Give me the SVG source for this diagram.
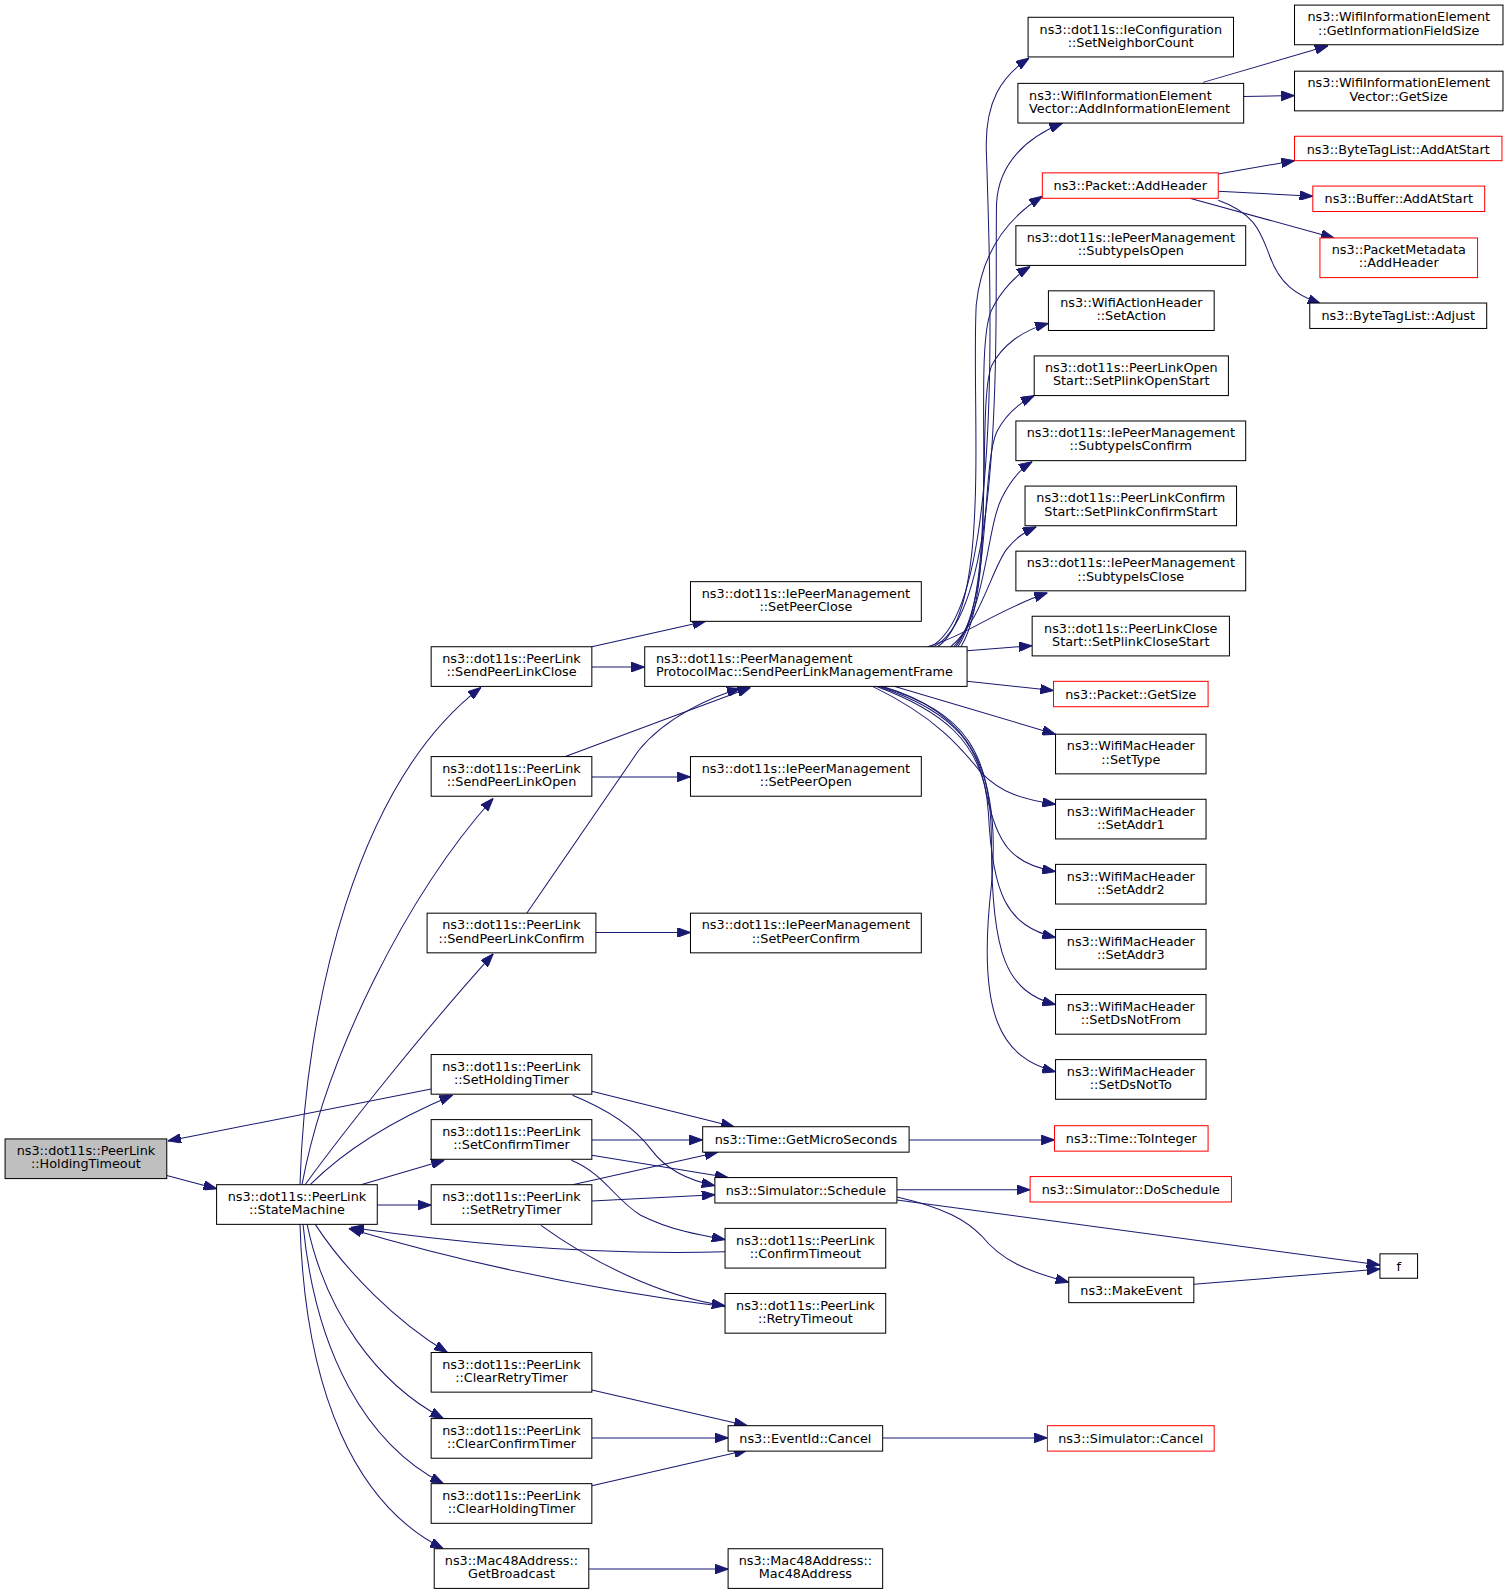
<svg xmlns="http://www.w3.org/2000/svg" width="1509" height="1595" viewBox="0 0 1509 1595">
<style>
.node rect{fill:#fff;stroke:#000;stroke-width:1}
.red rect{stroke:#f00}
.sel rect{fill:#bfbfbf}
text{font-family:"DejaVu Sans","Liberation Sans",sans-serif;font-size:12.6px;fill:#000;text-anchor:middle}
.lft text{text-anchor:start}
.edges path{fill:none;stroke:#191970;stroke-width:1;marker-end:url(#a)}
</style>
<defs>
<marker id="a" markerWidth="13" markerHeight="9.4" refX="13" refY="4.7" orient="auto" markerUnits="userSpaceOnUse"><path d="M0,0 L13,4.7 L0,9.4z" fill="#191970" stroke="#191970" stroke-width="1"/></marker>
</defs>
<rect width="1509" height="1595" fill="#fff"/>
<g transform="scale(1.0169)">
<g class="edges">
<path d="M164,1156 L213,1169"/>
<path d="M424,1071 L165,1122"/>
<path d="M295,1165 C300,990 350,770 473,676"/>
<path d="M297,1165 C320,1040 400,880 485,785"/>
<path d="M300,1165 C340,1110 420,1010 485,938"/>
<path d="M305,1165 C340,1130 390,1100 445,1077"/>
<path d="M355,1165 L437,1141"/>
<path d="M371,1185 L424,1185"/>
<path d="M310,1204 C340,1250 390,1300 440,1330"/>
<path d="M302,1204 C320,1290 370,1360 436,1395"/>
<path d="M298,1204 C310,1330 360,1420 436,1459"/>
<path d="M295,1204 C300,1370 350,1480 436,1523"/>
<path d="M713,1231 C600,1234 470,1225 345,1207"/>
<path d="M713,1285 C580,1268 450,1240 343,1208"/>
<path d="M582,636 L694,611"/>
<path d="M582,656 L634,656"/>
<path d="M556,744 L738,676"/>
<path d="M518,898 L628,738 C655,705 700,685 728,677"/>
<path d="M582,764 L679,764"/>
<path d="M586,917 L679,917"/>
<path d="M582,1073 L722,1108"/>
<path d="M563,1077 C600,1092 625,1110 640,1130 C655,1150 675,1160 703,1166"/>
<path d="M582,1121 L691,1121"/>
<path d="M582,1136 L716,1158"/>
<path d="M562,1141 C595,1155 605,1180 630,1195 C660,1210 690,1215 713,1219"/>
<path d="M563,1165 L706,1133"/>
<path d="M582,1181 L703,1175"/>
<path d="M532,1205 C580,1240 650,1275 713,1284"/>
<path d="M894,1121 L1037,1121"/>
<path d="M882,1170 L1013,1170"/>
<path d="M882,1180 L1357,1244"/>
<path d="M882,1177 C930,1188 950,1200 965,1215 C985,1240 1010,1250 1051,1261"/>
<path d="M1174,1263 L1357,1248"/>
<path d="M582,1367 L735,1402"/>
<path d="M582,1414 L716,1414"/>
<path d="M582,1461 L735,1426"/>
<path d="M868,1414 L1030,1414"/>
<path d="M579,1543 L716,1543"/>
<path d="M1198,171 L1273,158"/>
<path d="M1198,188 L1291,193"/>
<path d="M1170,195 L1312,234"/>
<path d="M1198,197 C1235,210 1240,230 1248,250 C1258,280 1275,290 1299,299"/>
<path d="M1183,81 L1306,45"/>
<path d="M1223,95 L1273,94"/>
<path d="M951,640 L1015,635"/>
<path d="M951,670 L1036,679"/>
<path d="M880,675 L1038,722"/>
<path d="M858,675 C920,705 945,735 965,760 C985,780 1005,786 1038,791"/>
<path d="M862,675 C930,700 960,730 970,780 C980,830 995,850 1038,857"/>
<path d="M864,675 C940,700 968,735 972,800 C976,880 990,910 1038,922"/>
<path d="M866,675 C950,700 975,740 975,830 C975,940 990,975 1038,988"/>
<path d="M868,675 C955,700 985,760 975,870 C960,1000 985,1040 1038,1054"/>
<path d="M912,636 C950,625 980,600 1030,583"/>
<path d="M935,636 C965,610 975,560 990,540 C1000,528 1008,523 1019,518"/>
<path d="M938,636 C970,600 970,520 985,490 C995,470 1005,460 1015,454"/>
<path d="M940,636 C975,590 965,460 980,425 C990,405 1005,395 1017,389"/>
<path d="M942,636 C980,580 960,400 975,360 C985,340 1005,325 1031,318"/>
<path d="M945,636 C985,570 955,350 975,305 C985,285 1000,270 1013,262"/>
<path d="M922,636 C975,600 955,400 960,300 C965,250 990,215 1025,193"/>
<path d="M918,636 C990,600 978,300 980,200 C982,160 1010,135 1045,121"/>
<path d="M915,636 C985,600 975,300 970,150 C968,100 985,75 1012,57"/>
</g>
<g id="n1" class="node sel"><rect x="5" y="1120" width="159" height="39"/><text x="84.5" y="1136">ns3::dot11s::PeerLink</text><text x="84.5" y="1149">::HoldingTimeout</text></g>
<g id="n2" class="node"><rect x="213" y="1165" width="158" height="39"/><text x="292" y="1181">ns3::dot11s::PeerLink</text><text x="292" y="1194">::StateMachine</text></g>
<g id="n3" class="node"><rect x="424" y="636" width="158" height="39"/><text x="503" y="652">ns3::dot11s::PeerLink</text><text x="503" y="665">::SendPeerLinkClose</text></g>
<g id="n4" class="node"><rect x="424" y="744" width="158" height="39"/><text x="503" y="760">ns3::dot11s::PeerLink</text><text x="503" y="773">::SendPeerLinkOpen</text></g>
<g id="n5" class="node"><rect x="420" y="898" width="166" height="39"/><text x="503" y="914">ns3::dot11s::PeerLink</text><text x="503" y="927">::SendPeerLinkConfirm</text></g>
<g id="n6" class="node"><rect x="424" y="1037" width="158" height="39"/><text x="503" y="1053">ns3::dot11s::PeerLink</text><text x="503" y="1066">::SetHoldingTimer</text></g>
<g id="n7" class="node"><rect x="424" y="1101" width="158" height="39"/><text x="503" y="1117">ns3::dot11s::PeerLink</text><text x="503" y="1130">::SetConfirmTimer</text></g>
<g id="n8" class="node"><rect x="424" y="1165" width="158" height="39"/><text x="503" y="1181">ns3::dot11s::PeerLink</text><text x="503" y="1194">::SetRetryTimer</text></g>
<g id="n9" class="node"><rect x="424" y="1330" width="158" height="39"/><text x="503" y="1346">ns3::dot11s::PeerLink</text><text x="503" y="1359">::ClearRetryTimer</text></g>
<g id="n10" class="node"><rect x="424" y="1395" width="158" height="39"/><text x="503" y="1411">ns3::dot11s::PeerLink</text><text x="503" y="1424">::ClearConfirmTimer</text></g>
<g id="n11" class="node"><rect x="424" y="1459" width="158" height="39"/><text x="503" y="1475">ns3::dot11s::PeerLink</text><text x="503" y="1488">::ClearHoldingTimer</text></g>
<g id="n12" class="node"><rect x="427" y="1523" width="152" height="39"/><text x="503" y="1539">ns3::Mac48Address::</text><text x="503" y="1552">GetBroadcast</text></g>
<g id="n13" class="node"><rect x="679" y="572" width="227" height="39"/><text x="792.5" y="588">ns3::dot11s::IePeerManagement</text><text x="792.5" y="601">::SetPeerClose</text></g>
<g id="n14" class="node lft"><rect x="634" y="636" width="317" height="39"/><text x="645" y="652">ns3::dot11s::PeerManagement</text><text x="645" y="665">ProtocolMac::SendPeerLinkManagementFrame</text></g>
<g id="n15" class="node"><rect x="679" y="744" width="227" height="39"/><text x="792.5" y="760">ns3::dot11s::IePeerManagement</text><text x="792.5" y="773">::SetPeerOpen</text></g>
<g id="n16" class="node"><rect x="679" y="898" width="227" height="39"/><text x="792.5" y="914">ns3::dot11s::IePeerManagement</text><text x="792.5" y="927">::SetPeerConfirm</text></g>
<g id="n17" class="node"><rect x="691" y="1108" width="203" height="25"/><text x="792.5" y="1125">ns3::Time::GetMicroSeconds</text></g>
<g id="n18" class="node"><rect x="703" y="1158" width="179" height="25"/><text x="792.5" y="1175">ns3::Simulator::Schedule</text></g>
<g id="n19" class="node"><rect x="713" y="1208" width="158" height="39"/><text x="792" y="1224">ns3::dot11s::PeerLink</text><text x="792" y="1237">::ConfirmTimeout</text></g>
<g id="n20" class="node"><rect x="713" y="1272" width="158" height="39"/><text x="792" y="1288">ns3::dot11s::PeerLink</text><text x="792" y="1301">::RetryTimeout</text></g>
<g id="n21" class="node"><rect x="716" y="1402" width="152" height="25"/><text x="792" y="1419">ns3::EventId::Cancel</text></g>
<g id="n22" class="node"><rect x="716" y="1523" width="152" height="39"/><text x="792" y="1539">ns3::Mac48Address::</text><text x="792" y="1552">Mac48Address</text></g>
<g id="n23" class="node"><rect x="1011" y="17" width="202" height="39"/><text x="1112" y="33">ns3::dot11s::IeConfiguration</text><text x="1112" y="46">::SetNeighborCount</text></g>
<g id="n24" class="node lft"><rect x="1001" y="82" width="222" height="39"/><text x="1012" y="98">ns3::WifiInformationElement</text><text x="1012" y="111">Vector::AddInformationElement</text></g>
<g id="n25" class="node red"><rect x="1025" y="170" width="173" height="25"/><text x="1111.5" y="187">ns3::Packet::AddHeader</text></g>
<g id="n26" class="node"><rect x="999" y="222" width="226" height="39"/><text x="1112" y="238">ns3::dot11s::IePeerManagement</text><text x="1112" y="251">::SubtypeIsOpen</text></g>
<g id="n27" class="node"><rect x="1031" y="286" width="163" height="39"/><text x="1112.5" y="302">ns3::WifiActionHeader</text><text x="1112.5" y="315">::SetAction</text></g>
<g id="n28" class="node"><rect x="1017" y="350" width="191" height="39"/><text x="1112.5" y="366">ns3::dot11s::PeerLinkOpen</text><text x="1112.5" y="379">Start::SetPlinkOpenStart</text></g>
<g id="n29" class="node"><rect x="999" y="414" width="226" height="39"/><text x="1112" y="430">ns3::dot11s::IePeerManagement</text><text x="1112" y="443">::SubtypeIsConfirm</text></g>
<g id="n30" class="node"><rect x="1008" y="478" width="208" height="39"/><text x="1112" y="494">ns3::dot11s::PeerLinkConfirm</text><text x="1112" y="507">Start::SetPlinkConfirmStart</text></g>
<g id="n31" class="node"><rect x="999" y="542" width="226" height="39"/><text x="1112" y="558">ns3::dot11s::IePeerManagement</text><text x="1112" y="571">::SubtypeIsClose</text></g>
<g id="n32" class="node"><rect x="1015" y="606" width="194" height="39"/><text x="1112" y="622">ns3::dot11s::PeerLinkClose</text><text x="1112" y="635">Start::SetPlinkCloseStart</text></g>
<g id="n33" class="node red"><rect x="1036" y="670" width="152" height="25"/><text x="1112" y="687">ns3::Packet::GetSize</text></g>
<g id="n34" class="node"><rect x="1038" y="722" width="148" height="39"/><text x="1112" y="738">ns3::WifiMacHeader</text><text x="1112" y="751">::SetType</text></g>
<g id="n35" class="node"><rect x="1038" y="786" width="148" height="39"/><text x="1112" y="802">ns3::WifiMacHeader</text><text x="1112" y="815">::SetAddr1</text></g>
<g id="n36" class="node"><rect x="1038" y="850" width="148" height="39"/><text x="1112" y="866">ns3::WifiMacHeader</text><text x="1112" y="879">::SetAddr2</text></g>
<g id="n37" class="node"><rect x="1038" y="914" width="148" height="39"/><text x="1112" y="930">ns3::WifiMacHeader</text><text x="1112" y="943">::SetAddr3</text></g>
<g id="n38" class="node"><rect x="1038" y="978" width="148" height="39"/><text x="1112" y="994">ns3::WifiMacHeader</text><text x="1112" y="1007">::SetDsNotFrom</text></g>
<g id="n39" class="node"><rect x="1038" y="1042" width="148" height="39"/><text x="1112" y="1058">ns3::WifiMacHeader</text><text x="1112" y="1071">::SetDsNotTo</text></g>
<g id="n40" class="node red"><rect x="1037" y="1107" width="151" height="25"/><text x="1112.5" y="1124">ns3::Time::ToInteger</text></g>
<g id="n41" class="node red"><rect x="1013" y="1157" width="198" height="25"/><text x="1112" y="1174">ns3::Simulator::DoSchedule</text></g>
<g id="n42" class="node"><rect x="1051" y="1256" width="123" height="25"/><text x="1112.5" y="1273">ns3::MakeEvent</text></g>
<g id="n43" class="node"><rect x="1357" y="1233" width="37" height="24"/><text x="1375.5" y="1250">f</text></g>
<g id="n44" class="node red"><rect x="1030" y="1402" width="164" height="25"/><text x="1112" y="1419">ns3::Simulator::Cancel</text></g>
<g id="n45" class="node"><rect x="1273" y="5" width="205" height="39"/><text x="1375.5" y="21">ns3::WifiInformationElement</text><text x="1375.5" y="34">::GetInformationFieldSize</text></g>
<g id="n46" class="node"><rect x="1273" y="70" width="205" height="39"/><text x="1375.5" y="86">ns3::WifiInformationElement</text><text x="1375.5" y="99">Vector::GetSize</text></g>
<g id="n47" class="node red"><rect x="1273" y="134" width="204" height="24"/><text x="1375" y="151">ns3::ByteTagList::AddAtStart</text></g>
<g id="n48" class="node red"><rect x="1291" y="183" width="169" height="25"/><text x="1375.5" y="200">ns3::Buffer::AddAtStart</text></g>
<g id="n49" class="node red"><rect x="1298" y="234" width="155" height="39"/><text x="1375.5" y="250">ns3::PacketMetadata</text><text x="1375.5" y="263">::AddHeader</text></g>
<g id="n50" class="node"><rect x="1288" y="298" width="174" height="25"/><text x="1375" y="315">ns3::ByteTagList::Adjust</text></g>
</g>
</svg>
